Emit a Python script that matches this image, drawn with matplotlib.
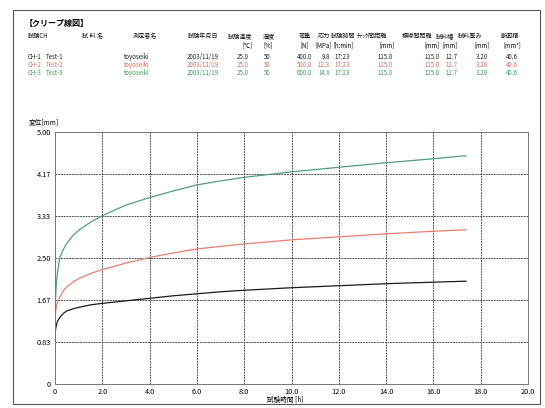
import matplotlib
matplotlib.use("Agg")
import matplotlib.pyplot as plt
from matplotlib.patches import Rectangle

plt.rcParams['font.family'] = ['Noto Sans CJK JP', 'DejaVu Sans']

# ---- header table
ch_names = ["CH-1", "CH-2", "CH-3"]
samples = ["Test-1", "Test-2", "Test-3"]
operator = ["toyoseiki", "toyoseiki", "toyoseiki"]
dates = ["2003/11/19", "2003/11/19", "2003/11/19"]
temp = ["25.0", "25.0", "25.0"]
humid = ["50", "50", "50"]
load = ["400.0", "500.0", "600.0"]
stress = ["9.8", "12.3", "14.8"]
duration = ["17:23", "17:23", "17:23"]
chuck = ["115.0", "115.0", "115.0"]
gauge = ["115.0", "115.0", "115.0"]
width = ["12.7", "12.7", "12.7"]
thick = ["3.20", "3.20", "3.20"]
area = ["40.6", "40.6", "40.6"]
row_colors = ["#222222", "#e06a5a", "#3f9a5c"]

# ---- creep curves (time h, displacement mm)
t = [0, 0.02, 0.05, 0.1, 0.2, 0.35, 0.5, 0.75, 1, 1.5, 2, 3, 4, 5, 6, 7, 8, 10, 12, 14, 16, 17.38]
disp_ch1 = [0.88, 1.07, 1.15, 1.24, 1.32, 1.40, 1.45, 1.49, 1.52, 1.57, 1.60, 1.65, 1.70,
            1.75, 1.79, 1.83, 1.86, 1.91, 1.95, 1.99, 2.02, 2.04]
disp_ch2 = [1.25, 1.42, 1.52, 1.62, 1.72, 1.85, 1.93, 2.02, 2.09, 2.19, 2.27, 2.40, 2.51,
            2.60, 2.68, 2.73, 2.78, 2.86, 2.92, 2.98, 3.03, 3.06]
disp_ch3 = [1.15, 1.65, 1.95, 2.2, 2.5, 2.67, 2.79, 2.94, 3.05, 3.21, 3.34, 3.55, 3.70,
            3.83, 3.95, 4.03, 4.10, 4.21, 4.30, 4.39, 4.47, 4.53]
line_colors = ["#1a1a1a", "#e8806e", "#4f9e86"]

xticks = [0, 2, 4, 6, 8, 10, 12, 14, 16, 18, 20]
xtick_labels = ["0", "2.0", "4.0", "6.0", "8.0", "10.0", "12.0", "14.0", "16.0", "18.0", "20.0"]
yticks = [0, 5 / 6, 5 / 3, 2.5, 10 / 3, 25 / 6, 5.0]
ytick_labels = ["0", "0.83", "1.67", "2.50", "3.33", "4.17", "5.00"]

W, H = 545, 408
fig = plt.figure(figsize=(W / 100, H / 100), dpi=100)
fig.patch.set_facecolor("white")


def px(x, y):
    return x / W, 1 - y / H


# page frame of the scan
fig.patches.append(Rectangle(px(13, 404), (540 - 13) / W, (404 - 10) / H,
                             transform=fig.transFigure, fill=False,
                             edgecolor="#555555", linewidth=0.8))

fs = 4.4
fig.text(*px(25, 23), "【クリープ線図】", fontsize=5.8, fontweight="bold", va="center")

# header labels (x, text, alignment)
head1 = [(28, "試験CH", "left"), (82, "試 料 名", "left"), (133, "測定者名", "left"),
         (188, "試験年月日", "left"), (228, "試験温度", "left"), (263, "湿度", "left"),
         (305, "荷重", "center"), (324, "応力", "center"), (343, "試験時間", "center"),
         (372, "ﾁｬｯｸ間距離", "center"), (417, "標線間距離", "center"), (445, "試料幅", "center"),
         (470, "試料厚み", "center"), (510, "断面積", "center")]
for x, s, ha in head1:
    fig.text(*px(x, 36), s, fontsize=fs, ha=ha, va="center", color="#111111")

head2 = [(247, "[℃]"), (268, "[%]"), (305, "[N]"), (323, "[MPa]"), (343, "[h:min]"),
         (387, "[mm]"), (432, "[mm]"), (450, "[mm]"), (482, "[mm]"), (512, "[mm²]")]
for x, s in head2:
    fig.text(*px(x, 45), s, fontsize=fs, ha="center", va="center")

for i in range(3):
    y = 57 + 8 * i
    c = row_colors[i]
    fig.text(*px(28, y), ch_names[i], fontsize=fs, color=c, va="center")
    fig.text(*px(46, y), samples[i], fontsize=fs, color=c, va="center")
    fig.text(*px(124, y), operator[i], fontsize=fs, color=c, va="center")
    fig.text(*px(187, y), dates[i], fontsize=fs, color=c, va="center")
    cols = [(249, temp), (271, humid), (312, load), (330, stress), (350, duration),
            (393, chuck), (440, gauge), (457, width), (488, thick), (518, area)]
    for x, vals in cols:
        fig.text(*px(x, y), vals[i], fontsize=fs, color=c, ha="right", va="center")

# ---- plot
left, top, right, bottom = 55, 132, 528, 384
ax = fig.add_axes([left / W, 1 - bottom / H, (right - left) / W, (bottom - top) / H])
for d, c in zip([disp_ch1, disp_ch2, disp_ch3], line_colors):
    ax.plot(t, d, color=c, linewidth=0.9)

ax.set_xlim(0, 20)
ax.set_ylim(0, 5)
ax.set_xticks(xticks)
ax.set_xticklabels(xtick_labels, fontsize=5.3)
ax.set_yticks(yticks)
ax.set_yticklabels(ytick_labels, fontsize=5.3)
ax.tick_params(length=0, pad=3)
ax.grid(True, color="#555555", linewidth=0.7, linestyle=(0, (2, 0.8)))
for sp in ax.spines.values():
    sp.set_color("#777777")
    sp.set_linewidth(0.7)

fig.text(*px(29, 123), "変位[mm]", fontsize=4.8, va="center")
fig.text(*px(285, 400), "試験時間 [h]", fontsize=4.8, ha="center", va="center")

fig.savefig("out.png", dpi=100)
